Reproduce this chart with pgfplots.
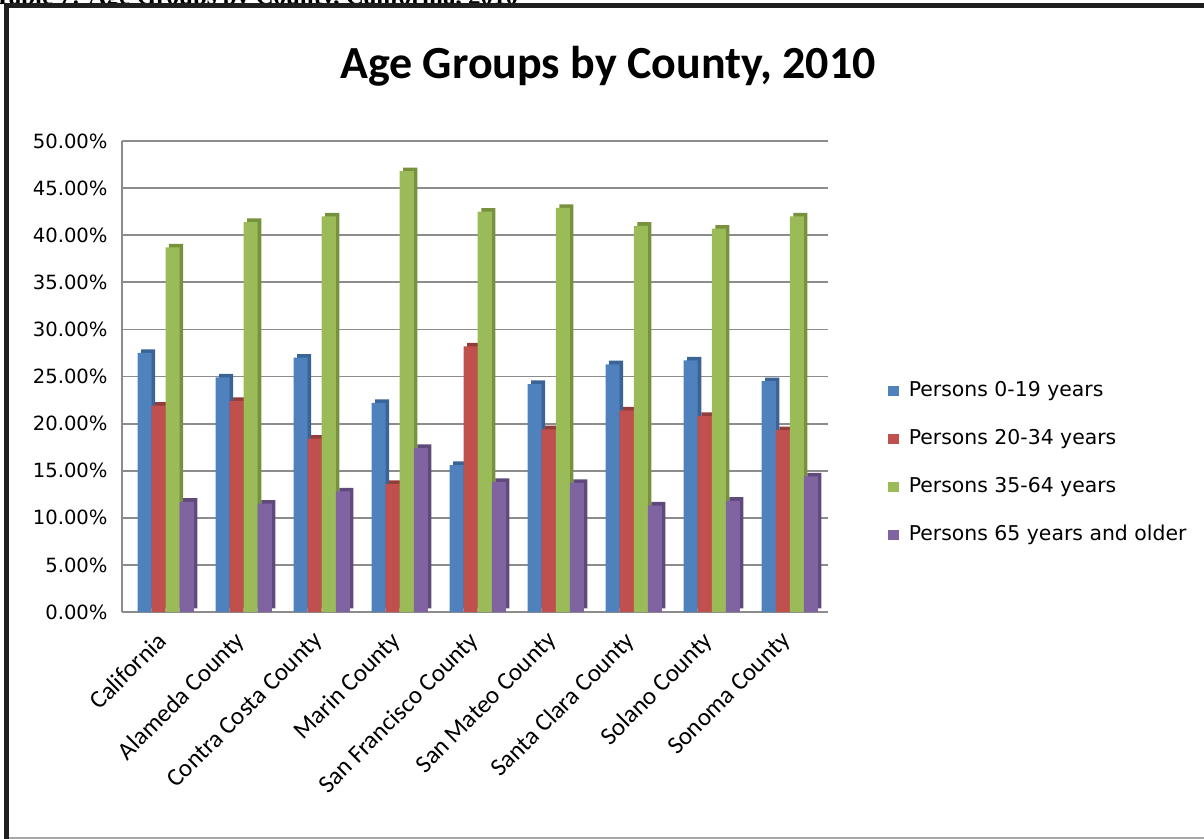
\documentclass[border=0pt]{standalone}
\usepackage{pgfplots}
\usepackage{pgfplotstable}
\pgfplotsset{compat=1.18}
\usepackage{fontspec}
\setmainfont{Carlito}
\newfontfamily\tickfont{DejaVu Sans}
\newfontfamily\capfont{Liberation Serif}
\definecolor{sBlue}{HTML}{4F81BD}
\definecolor{sRed}{HTML}{C0504D}
\definecolor{sGreen}{HTML}{9BBB59}
\definecolor{sPurple}{HTML}{8064A2}
\definecolor{dBlue}{HTML}{3A6496}
\definecolor{dRed}{HTML}{943C3A}
\definecolor{dGreen}{HTML}{76923C}
\definecolor{dPurple}{HTML}{5F4A7B}
\definecolor{gridgray}{RGB}{140,140,140}

\pgfplotstableread{
x a b c d
0 27.5 21.9 38.7 11.7
1 24.9 22.4 41.4 11.5
2 27.0 18.4 42.0 12.8
3 22.2 13.6 46.8 17.4
4 15.6 28.2 42.5 13.8
5 24.2 19.4 42.9 13.7
6 26.3 21.4 41.0 11.3
7 26.7 20.8 40.7 11.8
8 24.5 19.3 42.0 14.4
}\datatable

\begin{document}
\begin{tikzpicture}
\useasboundingbox (0pt,0pt) rectangle (602pt,-419.5pt);
% cut-off caption above the frame
\begin{scope}
\clip (0pt,0pt) rectangle (602pt,-2pt);
\node[anchor=base west, inner sep=0pt, font=\capfont\bfseries\fontsize{12.5}{14}\selectfont] at (-3pt,-2.2pt) {Table 7: Age Groups by County, California, 2010};
\end{scope}
\fill[black!88] (2pt,-1.5pt) rectangle (4.5pt,-419.5pt);
\fill[black!88] (2pt,-1.5pt) rectangle (602pt,-4pt);
\fill[gray!70] (4.5pt,-418.6pt) rectangle (602pt,-419.5pt);

\node[font=\bfseries\fontsize{23}{27}\selectfont] at (304pt,-33pt) {Age Groups by County, 2010};

\begin{axis}[
  at={(61pt,-306pt)}, anchor=south west,
  scale only axis, width=353pt, height=235.5pt,
  xmin=-0.56, xmax=8.49, ymin=0, ymax=50,
  axis lines*=left,
  axis line style={draw=gridgray, line width=0.9pt},
  major tick length=0pt,
  ytick={0,5,...,50},
  ymajorgrids, grid style={draw=gridgray, line width=0.9pt},
  /pgf/number format/assume math mode=true,
  yticklabel={\pgfmathprintnumber[fixed,fixed zerofill,precision=2]{\tick}\%},
  yticklabel style={font=\tickfont\fontsize{9.8}{11}\selectfont, anchor=east, inner sep=0pt, xshift=-7pt},
  xtick={0,...,8},
  xticklabels={California, Alameda County, Contra Costa County, Marin County, San Francisco County, San Mateo County, Santa Clara County, Solano County, Sonoma County},
  xticklabel style={xshift=-5pt, yshift=-8.9pt, rotate=45, anchor=north east, font=\fontsize{12.5}{14}\selectfont, inner sep=0pt},
  bar width=0.18,
  legend cell align=left,
  legend style={at={(1,0.316)}, anchor=west, xshift=27pt, draw=none, fill=none,
    font=\tickfont\fontsize{10.2}{12}\selectfont, row sep=14.3pt, column sep=5pt,
    nodes={inner sep=0pt, text height=7.5pt, text depth=2.2pt}},
  legend image code/.code={\fill[#1] (0pt,-2.6pt) rectangle (5.2pt,2.6pt);},
]
\addplot[ybar, bar shift=-0.225, fill=dBlue, draw=none, forget plot, yshift=1.8pt] table[x=x,y=a]{\datatable};
\addplot[ybar, bar shift=-0.27, fill=sBlue, draw=none] table[x=x,y=a]{\datatable};
\addplot[ybar, bar shift=-0.045, fill=dRed, draw=none, forget plot, yshift=1.8pt] table[x=x,y=b]{\datatable};
\addplot[ybar, bar shift=-0.09, fill=sRed, draw=none] table[x=x,y=b]{\datatable};
\addplot[ybar, bar shift=0.135, fill=dGreen, draw=none, forget plot, yshift=1.8pt] table[x=x,y=c]{\datatable};
\addplot[ybar, bar shift=0.09, fill=sGreen, draw=none] table[x=x,y=c]{\datatable};
\addplot[ybar, bar shift=0.315, fill=dPurple, draw=none, forget plot, yshift=1.8pt] table[x=x,y=d]{\datatable};
\addplot[ybar, bar shift=0.27, fill=sPurple, draw=none] table[x=x,y=d]{\datatable};
\legend{Persons 0-19 years, Persons 20-34 years, Persons 35-64 years, Persons 65 years and older}
\end{axis}
\end{tikzpicture}
\end{document}
